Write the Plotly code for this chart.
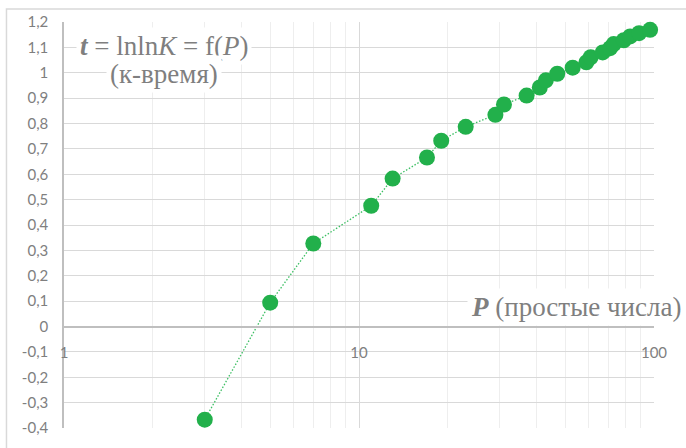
import plotly.graph_objects as go

# Primes P and t = ln ln K (K = index of the prime)
primes = [3, 5, 7, 11, 13, 17, 19, 23, 29, 31, 37, 41, 43, 47, 53, 59, 61, 67, 71, 73, 79, 83, 89, 97]
t_vals = [-0.367, 0.094, 0.327, 0.476, 0.583, 0.666, 0.732, 0.787, 0.834, 0.875, 0.910, 0.942,
          0.970, 0.996, 1.020, 1.041, 1.061, 1.080, 1.097, 1.113, 1.128, 1.143, 1.156, 1.169]

y_ticks = [-0.4, -0.3, -0.2, -0.1, 0, 0.1, 0.2, 0.3, 0.4, 0.5, 0.6, 0.7, 0.8, 0.9, 1.0, 1.1, 1.2]
y_labels = ["-0,4", "-0,3", "-0,2", "-0,1", "0", "0,1", "0,2", "0,3", "0,4", "0,5", "0,6",
            "0,7", "0,8", "0,9", "1", "1,1", "1,2"]
x_ticks = [1, 10, 100]
x_labels = ["1", "10", "100"]
x_minor = [2, 3, 4, 5, 6, 7, 8, 9, 20, 30, 40, 50, 60, 70, 80, 90]

GREEN = "#22b04b"
GRID = "#d9d9d9"
MINOR = "#eeeeee"
AXIS = "#bfbfbf"
TXT = "#7f7f7f"
SERIF = dict(family="Liberation Serif, Times New Roman, serif", size=27, color=TXT)

fig = go.Figure()
fig.add_trace(go.Scatter(
    x=primes, y=t_vals, mode="lines+markers",
    line=dict(color="#3cbf63", width=1.3, dash="1.5px,1.8px"),
    marker=dict(color=GREEN, size=16, line=dict(width=0)),
    showlegend=False, cliponaxis=False,
))

fig.update_layout(
    width=686, height=448,
    margin=dict(l=64, r=32, t=21, b=19),
    paper_bgcolor="white", plot_bgcolor="white",
    font=dict(family="Lato, Liberation Sans, sans-serif", size=15, color=TXT),
    xaxis=dict(
        type="log", range=[0, 2],
        tickvals=x_ticks, ticktext=x_labels,
        showgrid=True, gridcolor=GRID, gridwidth=1,
        minor=dict(tickvals=x_minor, showgrid=True, gridcolor=MINOR, gridwidth=1, ticks=""),
        showline=True, linecolor=AXIS, linewidth=1.5,
        anchor="free", position=0.25,
        ticks="", ticklabelstandoff=13,
        zeroline=False,
    ),
    yaxis=dict(
        range=[-0.4, 1.2],
        tickvals=y_ticks, ticktext=y_labels,
        showgrid=True, gridcolor=GRID, gridwidth=1,
        showline=True, linecolor=AXIS, linewidth=1.5,
        zeroline=False, ticks="", ticklabelstandoff=11,
    ),
    shapes=[dict(type="rect", xref="paper", yref="paper",
                 x0=-0.0975, x1=1.2, y0=-0.2, y1=1.032,
                 line=dict(color="#d9d9d9", width=1.5), fillcolor="rgba(0,0,0,0)")],
    annotations=[
        dict(xref="paper", yref="paper", x=0.1695, y=0.941, xanchor="center", yanchor="middle",
             text="<b><i>t</i></b> = lnln<i>K</i> = f(<i>P</i>)",
             showarrow=False, bgcolor="white", borderpad=3, font=SERIF),
        dict(xref="paper", yref="paper", x=0.1695, y=0.8725, xanchor="center", yanchor="middle",
             text="(к-время)",
             showarrow=False, bgcolor="white", borderpad=3, font=SERIF),
        dict(xref="paper", yref="paper", x=1.052, y=0.299, xanchor="right", yanchor="middle",
             text="<b><i>P</i></b> (простые числа)",
             showarrow=False, bgcolor="white", borderpad=3, font=SERIF),
    ],
)

fig.write_html("out.html")
